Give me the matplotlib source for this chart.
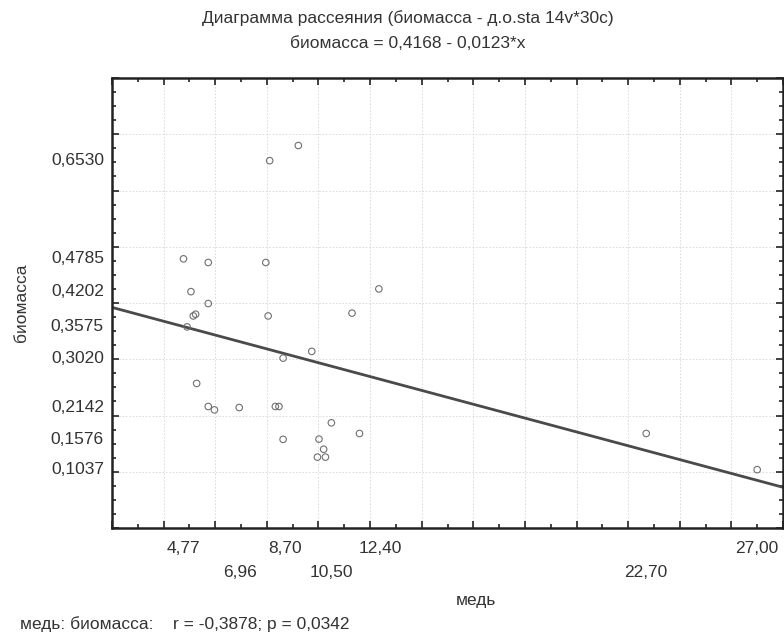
import numpy as np
import matplotlib
matplotlib.use("Agg")
import matplotlib.pyplot as plt
from matplotlib.ticker import MultipleLocator, NullFormatter
import matplotlib.transforms as mtransforms

plt.rcParams['font.family'] = ['Liberation Sans', 'DejaVu Sans']

# данные
med = [8.11, 9.22, 4.77, 5.73, 7.96, 5.06, 12.34, 5.73, 5.15, 5.24,
       8.05, 11.30, 4.91, 9.74, 8.63, 5.28, 5.73, 5.97, 6.93, 8.33,
       8.47, 10.50, 11.59, 8.63, 10.02, 10.20, 9.96, 10.27, 22.70, 27.00]
biomassa = [0.6530, 0.680, 0.4785, 0.472, 0.472, 0.4202, 0.425, 0.399, 0.377, 0.380,
            0.377, 0.382, 0.3575, 0.314, 0.3020, 0.257, 0.216, 0.210, 0.2142, 0.216,
            0.216, 0.187, 0.168, 0.1576, 0.158, 0.140, 0.126, 0.126, 0.168, 0.1037]

# регрессия
b0, b1 = 0.4168, -0.0123

x_labels = [4.77, 6.96, 8.70, 10.50, 12.40, 22.70, 27.00]
x_rows = [0, 1, 0, 1, 0, 1, 0]
y_labels = [0.6530, 0.4785, 0.4202, 0.3575, 0.3020, 0.2142, 0.1576, 0.1037]

fs = 12.5
tcol = '#333333'

fig = plt.figure(figsize=(7.84, 6.39), dpi=100)
ax = fig.add_axes([112/784, 1 - 528/639, 671/784, 450/639])

ax.set_xlim(2, 28)
ax.set_ylim(0, 0.8)

# сетка
for gx in range(4, 28, 2):
    ax.axvline(gx, color='#d6d6d6', lw=0.6, ls=(0, (2, 2)), zorder=0)
for gy in np.arange(0.1, 0.8, 0.1):
    ax.axhline(gy, color='#d6d6d6', lw=0.6, ls=(0, (2, 2)), zorder=0)

ax.scatter(med, biomassa, s=22, facecolors='none', edgecolors='#707070',
           linewidths=0.8, zorder=3)

xx = np.array(ax.get_xlim())
ax.plot(xx, b0 + b1 * xx, color='#4a4a4a', lw=2, zorder=2)

# тики
ax.xaxis.set_major_locator(MultipleLocator(2))
ax.xaxis.set_minor_locator(MultipleLocator(1))
ax.yaxis.set_major_locator(MultipleLocator(0.1))
ax.yaxis.set_minor_locator(MultipleLocator(0.025))
ax.xaxis.set_major_formatter(NullFormatter())
ax.yaxis.set_major_formatter(NullFormatter())
ax.tick_params(which='both', direction='in', top=True, right=True,
               color='#222222', width=1.2)
ax.tick_params(which='major', length=5)
ax.tick_params(which='minor', length=3)

for s in ax.spines.values():
    s.set_linewidth(1.8)
    s.set_color('#222222')

# подписи значений
tr_x = mtransforms.blended_transform_factory(ax.transData, ax.transAxes)
for v, r in zip(x_labels, x_rows):
    ax.text(v, -0.045 - 0.053 * r, f"{v:.2f}".replace('.', ','), transform=tr_x,
            ha='center', va='center', fontsize=fs, color=tcol)
tr_y = mtransforms.blended_transform_factory(ax.transAxes, ax.transData)
for v in y_labels:
    ax.text(-0.012, v, f"{v:.4f}".replace('.', ','), transform=tr_y,
            ha='right', va='center', fontsize=fs, color=tcol)

fig.text(22/784, 1 - 303/639, "биомасса", rotation=90, ha='center', va='center',
         fontsize=fs, color=tcol)
fig.text(476/784, 1 - 600/639, "медь", ha='center', va='center',
         fontsize=fs, color=tcol)
fig.text(408/784, 1 - 18/639, "Диаграмма рассеяния (биомасса - д.о.sta 14v*30с)",
         ha='center', va='center', fontsize=fs, color=tcol)
fig.text(408/784, 1 - 44/639, "биомасса = 0,4168 - 0,0123*x",
         ha='center', va='center', fontsize=fs, color=tcol)
fig.text(20/784, 1 - 624/639, "медь: биомасса:    r = -0,3878; p = 0,0342",
         ha='left', va='center', fontsize=fs, color=tcol)

fig.savefig("out.png", dpi=100)
